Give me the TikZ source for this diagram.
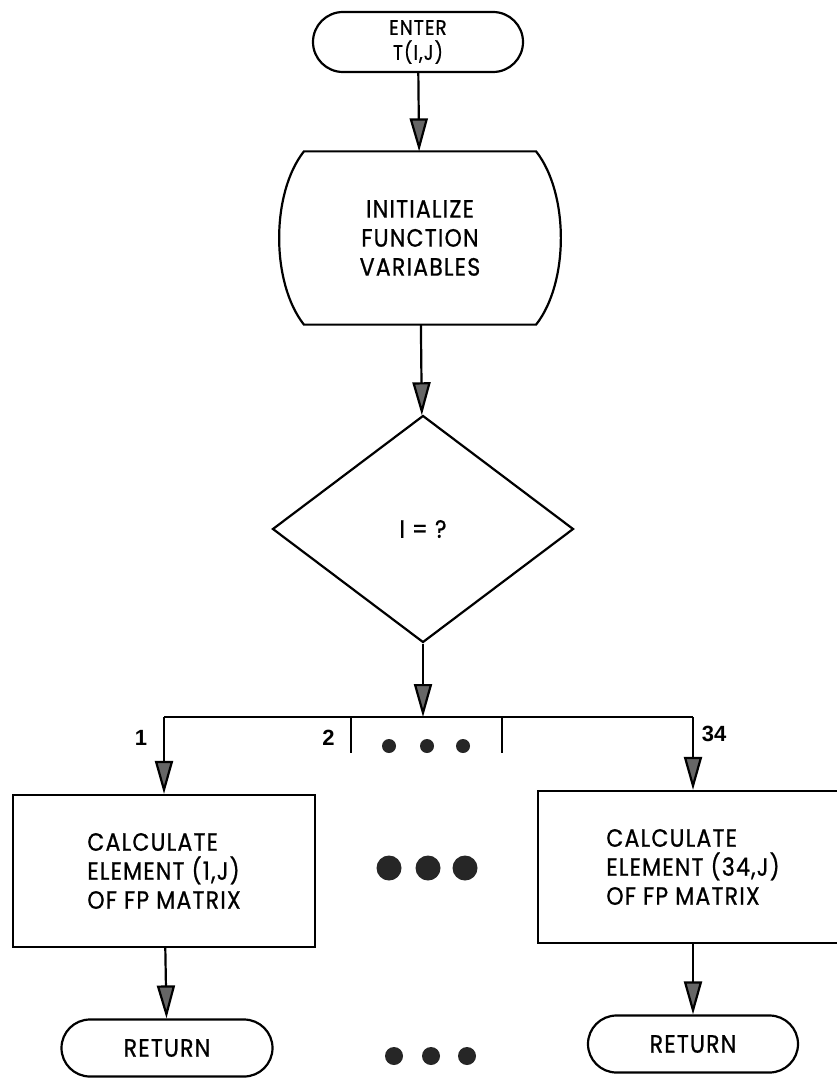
\documentclass[tikz,border=0pt]{standalone}
\usepackage{fontspec}
\setmainfont{Poppins}[LetterSpace=5,FakeBold=0.8,FakeStretch=0.88]
\newfontfamily\numfont{Liberation Sans}
\usetikzlibrary{arrows.meta,shapes.geometric,shapes.misc,calc}

\begin{document}
\begin{tikzpicture}[x=1pt,y=-1pt,line width=2.2pt,
  every node/.style={font=\fontsize{25}{29}\selectfont},
  arr/.style={-{Triangle[length=33pt,width=18pt,fill=black!60]}},
  term/.style={draw,rounded rectangle,minimum width=210pt,minimum height=57pt,inner sep=0pt},
  box/.style={draw,align=left,minimum height=152pt,inner sep=0pt},
  num/.style={font=\numfont\bfseries\fontsize{22}{24}\selectfont},
  dot/.style={fill=black!85,draw=none}]
\useasboundingbox (0,0) rectangle (836,1078);
\node[term,minimum height=60pt,font=\fontsize{21}{25}\selectfont,align=center] (enter) at (418,42) {ENTER\\T(I,J)};
\node[minimum width=230pt,minimum height=171pt,align=center] (init) at (420,238) {INITIALIZE\\FUNCTION\\VARIABLES};
\draw (init.north west) -- (init.north east) .. controls +(33,42) and +(33,-42) .. (init.south east)
  -- (init.south west) .. controls +(-33,-42) and +(-33,42) .. cycle;
\node[draw,diamond,minimum width=301pt,minimum height=227pt,inner sep=0pt] (cond) at (423,529) {I = ?};
\coordinate (fork) at (423,717);
\node[box,minimum width=302pt] (calc1) at (164,871) {CALCULATE\\ELEMENT (1,J)\\OF FP MATRIX};
\node[box,minimum width=310pt] (calc34) at (693,867) {CALCULATE\\ELEMENT (34,J)\\OF FP MATRIX};
\node[term,minimum width=211pt] (ret1) at (167,1048) {RETURN};
\node[term] (ret34) at (693,1044) {RETURN};
\coordinate (tick2) at (351,717);
\coordinate (tickn) at (502,717);
\draw[arr] (enter) -- (init);
\draw[arr] (init) -- (cond);
\draw[arr] (cond) -- (fork);
\draw (calc1.north |- fork) -- (calc34.north |- fork);
\draw (tick2) -- ++(0,36);
\draw (tickn) -- ++(0,36);
\draw[arr] (calc1.north |- fork) -- (calc1);
\draw[arr] (calc34.north |- fork) -- (calc34);
\draw[arr] (calc1) -- (ret1);
\draw[arr] (calc34) -- (ret34);
\node[num] (lab1) at (141,738) {1};
\node[num,anchor=east] (lab2) at (339,738) {2};
\node[num] (lab34) at (714,734) {34};
\foreach \x in {389,427,463} \fill[dot] (\x,746) circle (7);
\foreach \x in {389,428,465} \fill[dot] (\x,868) circle (12.5);
\foreach \x in {394,431,467} \fill[dot] (\x,1056) circle (9);
\end{tikzpicture}
\end{document}
